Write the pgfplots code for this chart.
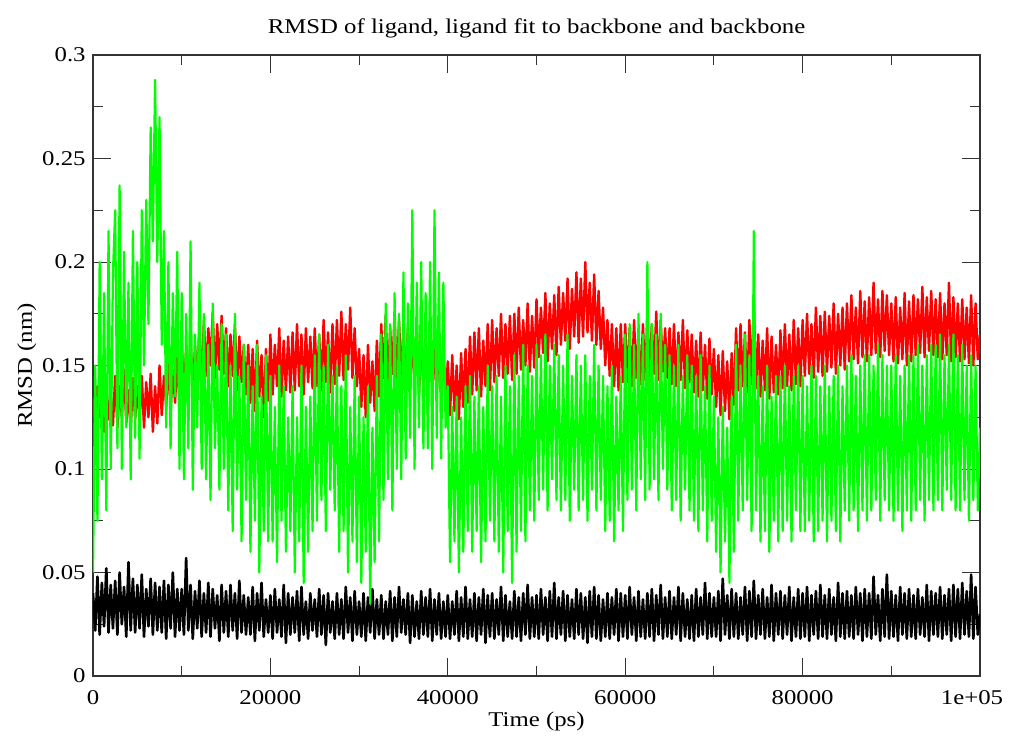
\documentclass[border=0pt]{standalone}
\usepackage{fontspec}
\setmainfont{Liberation Serif}[FakeStretch=1.18]
\usepackage{pgfplots}
\pgfplotsset{compat=1.18}
\definecolor{gl}{RGB}{0,255,0}
\definecolor{rd}{RGB}{255,0,0}
\begin{document}
\fontsize{10.5pt}{12.6pt}\selectfont
\begin{tikzpicture}
\useasboundingbox (-46.5pt,-30pt) rectangle (462.5pt,338pt);
\begin{axis}[
 at={(0,0)}, anchor=south west,
 scale only axis, width=443.5pt, height=310.5pt,
 xmin=0, xmax=100000, ymin=0, ymax=0.3,
 xtick={0,20000,40000,60000,80000,100000},
 xticklabels={0,20000,40000,60000,80000,{1e+05\kern8pt}},
 ytick={0,0.05,0.1,0.15,0.2,0.25,0.3},
 yticklabels={0,0.05,0.1,0.15,0.2,0.25,0.3},
 minor x tick num=1, minor y tick num=1,
 tick align=inside, major tick length=9pt, minor tick length=5pt,
 tick style={black!80, line width=0.5pt},
 axis line style={black!80, line width=0.7pt},
 /pgf/number format/assume math mode=true,
 xticklabel style={anchor=base, yshift=-14pt},
 title={RMSD of ligand, ligand fit to backbone and backbone},
 title style={at={(axis description cs:0.5,1.0354)}, anchor=base, yshift=-6pt},
 xlabel={Time (ps)},
 xlabel style={at={(axis description cs:0.5,-0.0821)}, anchor=base},
 ylabel={RMSD (nm)},
 ylabel style={at={(axis description cs:-0.0688,0.5)}, anchor=base},
 every axis plot/.append style={line join=round},
]
% backbone
\addplot[black, line width=1.3pt] table[header=false,row sep=\\,x expr=\coordindex*250,y index=0]{
0.040\\0.022\\0.048\\0.020\\0.045\\0.024\\0.052\\0.021\\0.044\\0.023\\
0.046\\0.020\\0.050\\0.025\\0.043\\0.019\\0.055\\0.022\\0.047\\0.021\\
0.044\\0.023\\0.049\\0.019\\0.042\\0.024\\0.047\\0.020\\0.045\\0.022\\
0.043\\0.021\\0.046\\0.018\\0.044\\0.023\\0.050\\0.019\\0.042\\0.022\\
0.042\\0.020\\0.057\\0.022\\0.044\\0.018\\0.041\\0.023\\0.046\\0.019\\
0.040\\0.021\\0.045\\0.019\\0.042\\0.023\\0.039\\0.017\\0.044\\0.021\\
0.041\\0.019\\0.044\\0.022\\0.040\\0.018\\0.046\\0.021\\0.039\\0.020\\
0.038\\0.020\\0.043\\0.017\\0.040\\0.022\\0.045\\0.019\\0.037\\0.021\\
0.039\\0.018\\0.042\\0.021\\0.037\\0.019\\0.044\\0.016\\0.040\\0.020\\
0.038\\0.021\\0.041\\0.017\\0.043\\0.020\\0.036\\0.018\\0.040\\0.022\\
0.037\\0.019\\0.042\\0.020\\0.039\\0.015\\0.040\\0.021\\0.036\\0.018\\
0.040\\0.020\\0.037\\0.018\\0.043\\0.021\\0.038\\0.017\\0.041\\0.020\\
0.036\\0.019\\0.040\\0.017\\0.038\\0.021\\0.042\\0.018\\0.037\\0.020\\
0.039\\0.018\\0.036\\0.020\\0.041\\0.017\\0.038\\0.019\\0.043\\0.021\\
0.037\\0.020\\0.040\\0.016\\0.039\\0.019\\0.036\\0.018\\0.041\\0.020\\
0.038\\0.019\\0.042\\0.017\\0.037\\0.020\\0.040\\0.018\\0.036\\0.019\\
0.039\\0.018\\0.036\\0.020\\0.041\\0.017\\0.038\\0.019\\0.043\\0.018\\
0.037\\0.019\\0.040\\0.017\\0.038\\0.020\\0.042\\0.016\\0.039\\0.019\\
0.040\\0.018\\0.037\\0.020\\0.043\\0.017\\0.039\\0.019\\0.036\\0.018\\
0.041\\0.019\\0.038\\0.017\\0.040\\0.020\\0.044\\0.018\\0.038\\0.019\\
0.039\\0.018\\0.042\\0.020\\0.038\\0.017\\0.041\\0.019\\0.045\\0.018\\
0.038\\0.020\\0.041\\0.017\\0.039\\0.019\\0.037\\0.018\\0.042\\0.020\\
0.040\\0.018\\0.038\\0.016\\0.041\\0.019\\0.043\\0.018\\0.039\\0.017\\
0.037\\0.019\\0.040\\0.018\\0.038\\0.020\\0.042\\0.017\\0.040\\0.019\\
0.039\\0.018\\0.043\\0.020\\0.038\\0.017\\0.041\\0.019\\0.037\\0.018\\
0.040\\0.019\\0.042\\0.017\\0.039\\0.020\\0.044\\0.018\\0.038\\0.019\\
0.041\\0.018\\0.038\\0.020\\0.043\\0.017\\0.040\\0.019\\0.037\\0.018\\
0.039\\0.017\\0.042\\0.019\\0.038\\0.020\\0.045\\0.018\\0.040\\0.019\\
0.038\\0.019\\0.041\\0.017\\0.047\\0.020\\0.039\\0.018\\0.042\\0.019\\
0.040\\0.018\\0.038\\0.020\\0.043\\0.017\\0.041\\0.019\\0.046\\0.018\\
0.039\\0.020\\0.042\\0.018\\0.038\\0.019\\0.044\\0.017\\0.040\\0.020\\
0.041\\0.018\\0.039\\0.020\\0.043\\0.017\\0.038\\0.019\\0.042\\0.018\\
0.040\\0.019\\0.043\\0.017\\0.039\\0.020\\0.041\\0.018\\0.044\\0.019\\
0.039\\0.018\\0.042\\0.020\\0.038\\0.017\\0.045\\0.019\\0.040\\0.018\\
0.041\\0.019\\0.039\\0.018\\0.043\\0.020\\0.040\\0.017\\0.042\\0.019\\
0.040\\0.018\\0.048\\0.020\\0.039\\0.017\\0.042\\0.019\\0.049\\0.018\\
0.041\\0.019\\0.039\\0.017\\0.043\\0.020\\0.040\\0.018\\0.042\\0.019\\
0.039\\0.018\\0.042\\0.020\\0.038\\0.019\\0.044\\0.017\\0.041\\0.020\\
0.040\\0.019\\0.043\\0.018\\0.039\\0.020\\0.042\\0.017\\0.044\\0.019\\
0.042\\0.018\\0.045\\0.020\\0.041\\0.019\\0.049\\0.018\\0.043\\0.020\\
0.030\\
};
% ligand fit to backbone
\addplot[rd, line width=1.2pt] table[header=false,row sep=\\,x expr=\coordindex*250,y index=0]{
0.135\\0.120\\0.140\\0.125\\0.138\\0.118\\0.142\\0.124\\0.136\\0.121\\
0.145\\0.120\\0.140\\0.125\\0.148\\0.122\\0.138\\0.118\\0.144\\0.124\\
0.140\\0.123\\0.145\\0.120\\0.142\\0.125\\0.146\\0.118\\0.140\\0.122\\
0.150\\0.126\\0.145\\0.130\\0.152\\0.128\\0.148\\0.132\\0.155\\0.130\\
0.162\\0.136\\0.158\\0.140\\0.165\\0.134\\0.160\\0.142\\0.168\\0.138\\
0.172\\0.145\\0.168\\0.150\\0.176\\0.144\\0.170\\0.148\\0.174\\0.146\\
0.168\\0.140\\0.165\\0.145\\0.170\\0.138\\0.164\\0.142\\0.160\\0.136\\
0.160\\0.132\\0.158\\0.128\\0.162\\0.135\\0.155\\0.125\\0.158\\0.133\\
0.165\\0.136\\0.160\\0.140\\0.168\\0.135\\0.162\\0.138\\0.164\\0.137\\
0.166\\0.138\\0.170\\0.140\\0.165\\0.136\\0.168\\0.142\\0.164\\0.139\\
0.168\\0.140\\0.165\\0.138\\0.172\\0.142\\0.166\\0.137\\0.170\\0.141\\
0.172\\0.145\\0.176\\0.143\\0.170\\0.148\\0.178\\0.144\\0.168\\0.140\\
0.158\\0.130\\0.155\\0.125\\0.160\\0.132\\0.152\\0.128\\0.162\\0.135\\
0.170\\0.144\\0.174\\0.142\\0.168\\0.146\\0.176\\0.140\\0.172\\0.145\\
0.166\\0.140\\0.168\\0.138\\0.164\\0.142\\0.170\\0.136\\0.165\\0.140\\
0.164\\0.136\\0.166\\0.138\\0.160\\0.134\\0.165\\0.137\\0.158\\0.132\\
0.152\\0.126\\0.155\\0.128\\0.150\\0.124\\0.156\\0.130\\0.158\\0.132\\
0.164\\0.136\\0.166\\0.138\\0.168\\0.135\\0.162\\0.140\\0.170\\0.138\\
0.172\\0.142\\0.168\\0.145\\0.175\\0.144\\0.170\\0.146\\0.174\\0.143\\
0.175\\0.146\\0.178\\0.148\\0.172\\0.150\\0.180\\0.147\\0.174\\0.149\\
0.182\\0.154\\0.178\\0.156\\0.185\\0.152\\0.180\\0.158\\0.184\\0.155\\
0.188\\0.160\\0.185\\0.162\\0.192\\0.158\\0.187\\0.164\\0.195\\0.161\\
0.192\\0.164\\0.200\\0.166\\0.190\\0.162\\0.194\\0.160\\0.186\\0.158\\
0.178\\0.150\\0.172\\0.145\\0.170\\0.140\\0.168\\0.138\\0.170\\0.142\\
0.170\\0.142\\0.168\\0.140\\0.172\\0.144\\0.166\\0.141\\0.170\\0.143\\
0.174\\0.145\\0.170\\0.146\\0.176\\0.143\\0.172\\0.147\\0.168\\0.144\\
0.168\\0.141\\0.170\\0.140\\0.166\\0.143\\0.172\\0.139\\0.167\\0.142\\
0.165\\0.137\\0.162\\0.135\\0.166\\0.138\\0.160\\0.134\\0.163\\0.136\\
0.158\\0.130\\0.155\\0.126\\0.157\\0.128\\0.152\\0.124\\0.156\\0.131\\
0.168\\0.138\\0.170\\0.140\\0.166\\0.137\\0.172\\0.141\\0.180\\0.139\\
0.165\\0.135\\0.162\\0.138\\0.168\\0.134\\0.164\\0.137\\0.160\\0.136\\
0.167\\0.139\\0.170\\0.140\\0.165\\0.138\\0.172\\0.141\\0.168\\0.140\\
0.172\\0.145\\0.175\\0.146\\0.170\\0.144\\0.178\\0.147\\0.174\\0.145\\
0.176\\0.147\\0.174\\0.149\\0.180\\0.146\\0.175\\0.150\\0.178\\0.148\\
0.180\\0.152\\0.184\\0.153\\0.178\\0.151\\0.186\\0.154\\0.181\\0.152\\
0.183\\0.155\\0.190\\0.156\\0.182\\0.154\\0.186\\0.157\\0.184\\0.155\\
0.180\\0.152\\0.183\\0.151\\0.178\\0.153\\0.185\\0.150\\0.181\\0.152\\
0.184\\0.155\\0.182\\0.156\\0.188\\0.154\\0.183\\0.157\\0.186\\0.155\\
0.182\\0.154\\0.185\\0.153\\0.180\\0.155\\0.190\\0.152\\0.183\\0.154\\
0.180\\0.152\\0.182\\0.153\\0.178\\0.151\\0.184\\0.150\\0.180\\0.153\\
0.165\\
};
% ligand
\addplot[gl, line width=1.1pt] table[header=false,row sep=\\,x expr=\coordindex*250,y index=0]{
0.050\\0.150\\0.075\\0.200\\0.095\\0.185\\0.080\\0.215\\0.100\\0.195\\
0.225\\0.110\\0.237\\0.100\\0.205\\0.120\\0.190\\0.095\\0.215\\0.115\\
0.200\\0.105\\0.225\\0.150\\0.230\\0.170\\0.265\\0.210\\0.288\\0.200\\
0.270\\0.160\\0.215\\0.120\\0.200\\0.110\\0.185\\0.135\\0.205\\0.100\\
0.185\\0.095\\0.175\\0.110\\0.210\\0.090\\0.165\\0.120\\0.190\\0.100\\
0.175\\0.095\\0.160\\0.085\\0.180\\0.110\\0.150\\0.090\\0.170\\0.100\\
0.165\\0.080\\0.150\\0.070\\0.175\\0.090\\0.145\\0.065\\0.160\\0.085\\
0.150\\0.060\\0.140\\0.075\\0.160\\0.050\\0.135\\0.070\\0.155\\0.065\\
0.145\\0.065\\0.130\\0.055\\0.150\\0.075\\0.140\\0.060\\0.125\\0.070\\
0.140\\0.050\\0.125\\0.065\\0.150\\0.045\\0.130\\0.060\\0.135\\0.070\\
0.155\\0.075\\0.165\\0.085\\0.150\\0.070\\0.160\\0.090\\0.145\\0.080\\
0.150\\0.060\\0.140\\0.070\\0.155\\0.050\\0.130\\0.065\\0.145\\0.055\\
0.135\\0.045\\0.125\\0.060\\0.140\\0.035\\0.120\\0.055\\0.145\\0.065\\
0.165\\0.085\\0.180\\0.095\\0.170\\0.080\\0.185\\0.100\\0.175\\0.095\\
0.195\\0.105\\0.180\\0.115\\0.225\\0.100\\0.190\\0.120\\0.200\\0.110\\
0.185\\0.110\\0.200\\0.100\\0.225\\0.115\\0.195\\0.105\\0.190\\0.120\\
0.140\\0.055\\0.130\\0.065\\0.135\\0.050\\0.125\\0.060\\0.140\\0.070\\
0.145\\0.060\\0.135\\0.070\\0.140\\0.055\\0.130\\0.065\\0.150\\0.075\\
0.140\\0.065\\0.145\\0.060\\0.135\\0.050\\0.150\\0.070\\0.140\\0.045\\
0.155\\0.060\\0.145\\0.070\\0.160\\0.065\\0.150\\0.080\\0.145\\0.075\\
0.160\\0.085\\0.155\\0.090\\0.165\\0.080\\0.150\\0.095\\0.160\\0.085\\
0.155\\0.080\\0.150\\0.085\\0.165\\0.075\\0.145\\0.090\\0.155\\0.080\\
0.150\\0.085\\0.155\\0.075\\0.145\\0.090\\0.160\\0.080\\0.150\\0.085\\
0.145\\0.070\\0.140\\0.075\\0.150\\0.065\\0.135\\0.080\\0.145\\0.070\\
0.165\\0.085\\0.170\\0.090\\0.160\\0.080\\0.175\\0.095\\0.165\\0.085\\
0.200\\0.090\\0.170\\0.095\\0.165\\0.085\\0.175\\0.100\\0.160\\0.090\\
0.155\\0.080\\0.150\\0.085\\0.160\\0.075\\0.145\\0.090\\0.155\\0.080\\
0.150\\0.075\\0.145\\0.070\\0.155\\0.080\\0.140\\0.065\\0.150\\0.075\\
0.135\\0.060\\0.125\\0.050\\0.130\\0.065\\0.120\\0.045\\0.135\\0.060\\
0.160\\0.075\\0.150\\0.080\\0.165\\0.085\\0.155\\0.070\\0.215\\0.080\\
0.145\\0.065\\0.140\\0.070\\0.150\\0.060\\0.135\\0.075\\0.145\\0.065\\
0.145\\0.070\\0.150\\0.075\\0.140\\0.065\\0.145\\0.080\\0.150\\0.070\\
0.145\\0.070\\0.140\\0.075\\0.150\\0.065\\0.145\\0.070\\0.140\\0.075\\
0.150\\0.065\\0.140\\0.075\\0.145\\0.070\\0.150\\0.065\\0.140\\0.080\\
0.150\\0.075\\0.155\\0.080\\0.145\\0.070\\0.150\\0.080\\0.155\\0.075\\
0.155\\0.080\\0.150\\0.085\\0.160\\0.075\\0.155\\0.085\\0.150\\0.080\\
0.150\\0.075\\0.155\\0.080\\0.145\\0.070\\0.150\\0.080\\0.155\\0.075\\
0.155\\0.080\\0.160\\0.085\\0.150\\0.075\\0.155\\0.085\\0.160\\0.080\\
0.160\\0.085\\0.165\\0.080\\0.155\\0.090\\0.160\\0.085\\0.165\\0.080\\
0.155\\0.080\\0.160\\0.085\\0.150\\0.075\\0.155\\0.085\\0.150\\0.080\\
0.120\\
};
\end{axis}
\end{tikzpicture}
\end{document}
